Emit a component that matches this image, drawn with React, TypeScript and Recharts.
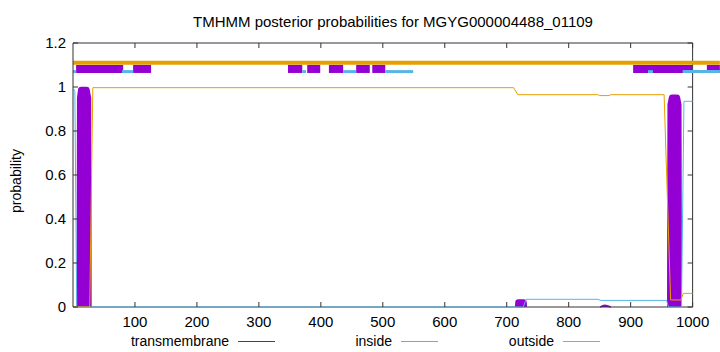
import React from "react";
import { Area, ComposedChart, Line, ReferenceLine, XAxis, YAxis } from "recharts";

// posterior curves, key points
const tmPos = [10.5, 11.2, 13, 22, 24.6, 25.3, 400, 718, 718.6, 727.4, 728, 800, 963.5, 964.2, 966.5, 975, 977.3, 978];
const tmProb = [0, 0.95, 0.988, 0.988, 0.95, 0, null, 0, 0.022, 0.022, 0, null, 0, 0.92, 0.952, 0.952, 0.92, 0];
// tiny transmembrane bump near 860
const tmSmallPos = [851, 858, 868];
const tmSmallProb = [0, 0.008, 0];

const insidePos = [1, 3, 6, 700, 727, 731, 847, 852, 958, 961, 982, 986, 1000];
const insideProb = [0.99, 0.98, 0, 0, 0, 0.035, 0.035, 0.03, 0.03, 0, 0, 0.935, 0.935];

const outsidePos = [1, 27, 32, 711, 718, 847, 850, 865, 868, 954, 964.5, 981, 985, 1000];
const outsideProb = [0, 0, 0.997, 0.997, 0.965, 0.965, 0.961, 0.961, 0.965, 0.965, 0.032, 0.032, 0.062, 0.062];

// predicted topology bars drawn above the curves
const tmTop: [number, number][] = [[5, 81], [97, 126], [347, 370], [378, 399], [413, 436], [457, 479], [483, 504], [904, 999], [1023, 1044]];
const insideTop: [number, number][] = [[0, 5], [79, 97], [370, 376], [436, 457], [504, 549], [928, 936], [984, 1044]];
const outsideTop: [number, number][] = [[0, 1044]];
const TM_LEVEL = 1.082;
const INSIDE_LEVEL = 1.07;
const OUTSIDE_LEVEL = 1.11;

const xTicks = [100, 200, 300, 400, 500, 600, 700, 800, 900, 1000];
const yTicks = [0, 0.2, 0.4, 0.6, 0.8, 1, 1.2];
const seriesNames = ["transmembrane", "inside", "outside"];

const TM_COLOR = "#9400d3";
const IN_COLOR = "#56b4e9";
const OUT_COLOR = "#e69f00";
const BORDER = "#333";
const FONT = "'Liberation Sans', Arial, sans-serif";

const X_END = 1000;
const Y_END = 1.2;
const PX_X = 0.6196; // px per residue
const PX_Y = 220; // px per unit probability

const toRows = (xs: number[], ps: (number | null)[]) => xs.map((x, i) => ({ x, p: ps[i] }));
const barRows = (seg: [number, number], level: number) => [
  { x: seg[0], p: level },
  { x: seg[1], p: level },
];

export default function App() {
  const legendColors = [TM_COLOR, IN_COLOR, OUT_COLOR];
  const legendRight = [229, 392, 554];
  const tickLenX = 5 / PX_X;
  const tickLenY = 5 / PX_Y;

  return (
    <div style={{ position: "fixed", left: 0, top: 0, width: 720, height: 352, background: "#fff", fontFamily: FONT }}>
      <div style={{ position: "absolute", left: 393, top: 13, transform: "translateX(-50%)", whiteSpace: "nowrap", fontSize: 15 }}>
        TMHMM posterior probabilities for MGYG000004488_01109
      </div>
      <div
        style={{
          position: "absolute",
          left: 16,
          top: 181,
          transform: "translate(-50%, -50%) rotate(-90deg)",
          whiteSpace: "nowrap",
          fontSize: 14,
        }}
      >
        probability
      </div>

      <ComposedChart width={720} height={352} margin={{ top: 43, right: 0, bottom: 0, left: 0 }}>
        <XAxis
          type="number"
          dataKey="x"
          domain={[0, 1044.2]}
          ticks={xTicks}
          axisLine={false}
          tickSize={-5}
          tickMargin={14}
          height={45}
          tickLine={{ stroke: BORDER }}
          tick={{ fill: "#000", fontSize: 15, fontFamily: FONT }}
          allowDataOverflow
        />
        <YAxis
          type="number"
          domain={[0, Y_END]}
          ticks={yTicks}
          width={73}
          axisLine={{ stroke: BORDER }}
          tickSize={-5}
          tickMargin={12}
          tickLine={{ stroke: BORDER }}
          tick={{ fill: "#000", fontSize: 15, fontFamily: FONT }}
        />

        <ReferenceLine segment={[{ x: 0, y: 0 }, { x: X_END, y: 0 }]} stroke={BORDER} ifOverflow="visible" />
        <ReferenceLine segment={[{ x: 0, y: Y_END }, { x: X_END, y: Y_END }]} stroke={BORDER} ifOverflow="visible" />
        <ReferenceLine segment={[{ x: X_END, y: 0 }, { x: X_END, y: Y_END }]} stroke={BORDER} ifOverflow="visible" />
        {xTicks.map((t) => (
          <ReferenceLine key={"tx" + t} segment={[{ x: t, y: Y_END }, { x: t, y: Y_END - tickLenY }]} stroke={BORDER} ifOverflow="visible" />
        ))}
        {yTicks.map((t) => (
          <ReferenceLine key={"ty" + t} segment={[{ x: X_END, y: t }, { x: X_END - tickLenX, y: t }]} stroke={BORDER} ifOverflow="visible" />
        ))}

        {outsideTop.map((s, i) => (
          <Line key={"ot" + i} data={barRows(s, OUTSIDE_LEVEL)} dataKey="p" stroke={OUT_COLOR} strokeWidth={4} dot={false} isAnimationActive={false} />
        ))}
        {tmTop.map((s, i) => (
          <Line key={"tt" + i} data={barRows(s, TM_LEVEL)} dataKey="p" stroke={TM_COLOR} strokeWidth={8} dot={false} isAnimationActive={false} />
        ))}
        {insideTop.map((s, i) => (
          <Line key={"it" + i} data={barRows(s, INSIDE_LEVEL)} dataKey="p" stroke={IN_COLOR} strokeWidth={3} dot={false} isAnimationActive={false} />
        ))}

        <Area
          data={toRows(tmPos, tmProb)}
          dataKey="p"
          type="linear"
          stroke={TM_COLOR}
          strokeWidth={6}
          strokeLinejoin="round"
          fill={TM_COLOR}
          fillOpacity={1}
          isAnimationActive={false}
        />
        <Area
          data={toRows(tmSmallPos, tmSmallProb)}
          dataKey="p"
          type="monotone"
          stroke={TM_COLOR}
          strokeWidth={1.5}
          fill={TM_COLOR}
          fillOpacity={1}
          isAnimationActive={false}
        />
        <Line data={toRows(insidePos, insideProb)} dataKey="p" type="linear" stroke={IN_COLOR} strokeWidth={1} dot={false} isAnimationActive={false} />
        <Line data={toRows(outsidePos, outsideProb)} dataKey="p" type="linear" stroke={OUT_COLOR} strokeWidth={1} dot={false} isAnimationActive={false} />
      </ComposedChart>

      {seriesNames.map((name, i) => (
        <React.Fragment key={name}>
          <div style={{ position: "absolute", right: 720 - legendRight[i], top: 333, fontSize: 14, whiteSpace: "nowrap" }}>{name}</div>
          <div style={{ position: "absolute", left: legendRight[i] + 9, width: 37, top: 341, height: 1, background: legendColors[i] }} />
        </React.Fragment>
      ))}
    </div>
  );
}
